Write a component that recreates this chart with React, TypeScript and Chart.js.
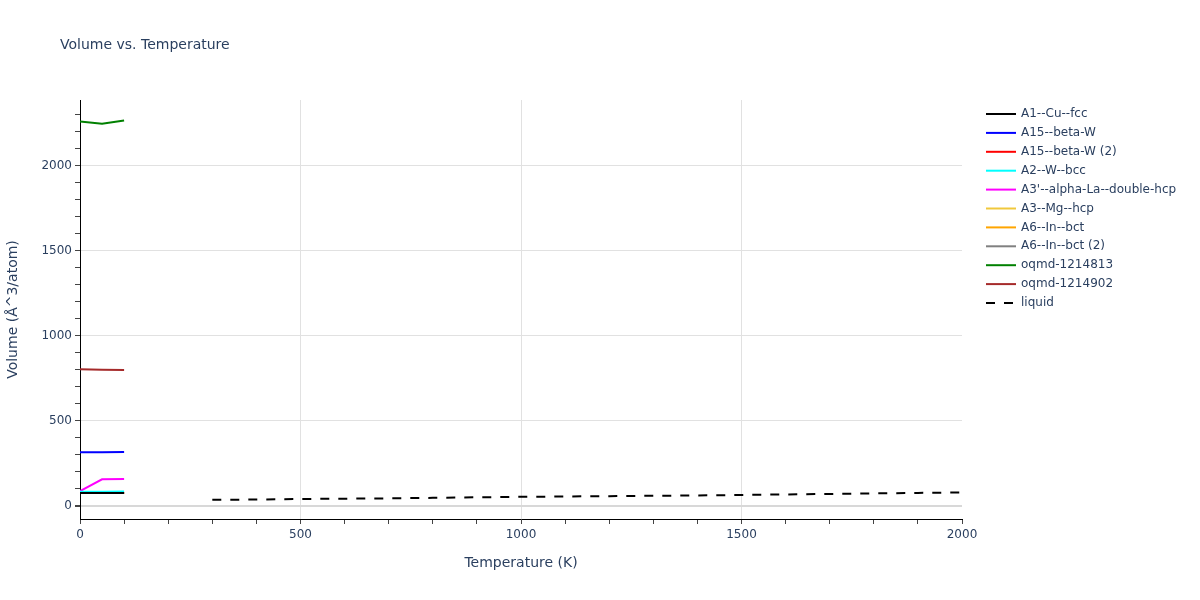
import React, { useEffect, useRef } from "react";
import { Chart, registerables } from "chart.js";

Chart.register(...registerables);

// ---- data ----
const solidTemps = [0, 50, 100];
const seriesNames = [
  "A1--Cu--fcc",
  "A15--beta-W",
  "A15--beta-W (2)",
  "A2--W--bcc",
  "A3'--alpha-La--double-hcp",
  "A3--Mg--hcp",
  "A6--In--bct",
  "A6--In--bct (2)",
  "oqmd-1214813",
  "oqmd-1214902",
];
const seriesColors = [
  "#000000",
  "#0000ff",
  "#ff0000",
  "#00ffff",
  "#ff00ff",
  "#f0c83c",
  "#ffa500",
  "#808080",
  "#008000",
  "#a52a2a",
];
const cuFcc = [76, 76, 77];
const a15BetaW = [316, 316, 318];
const a15BetaW2 = [76, 76, 77];
const a2WBcc = [84, 84, 85];
const a3AlphaLa = [88, 157, 159];
const a3MgHcp = [76, 77, 77];
const a6InBct = [76, 76, 77];
const a6InBct2 = [77, 77, 78];
const oqmd1214813 = [2261, 2249, 2267];
const oqmd1214902 = [804, 802, 800];
const solidValues = [
  cuFcc,
  a15BetaW,
  a15BetaW2,
  a2WBcc,
  a3AlphaLa,
  a3MgHcp,
  a6InBct,
  a6InBct2,
  oqmd1214813,
  oqmd1214902,
];

const liquidTemps = [300, 400, 500, 600, 700, 800, 900, 1000, 1100, 1200, 1300, 1400, 1500, 1600, 1700, 1800, 1900, 2000];
const liquidVolumes = [36, 38, 41, 43, 45, 48, 51, 54, 56, 58, 60, 62, 65, 68, 71, 74, 77, 80];

const xTicks = [0, 100, 200, 300, 400, 500, 600, 700, 800, 900, 1000, 1100, 1200, 1300, 1400, 1500, 1600, 1700, 1800, 1900, 2000];
const yTicks = [0, 100, 200, 300, 400, 500, 600, 700, 800, 900, 1000, 1100, 1200, 1300, 1400, 1500, 1600, 1700, 1800, 1900, 2000, 2100, 2200, 2300];
const labelStep = 500;

const FONT = '"DejaVu Sans", Verdana, sans-serif';
const TEXT = "#2a3f5f";

export default function App() {
  const ref = useRef<HTMLCanvasElement | null>(null);

  useEffect(() => {
    if (!ref.current) return;
    const datasets: any[] = solidValues.map((vals, i) => ({
      label: seriesNames[i],
      data: solidTemps.map((t, j) => ({ x: t, y: vals[j] })),
      borderColor: seriesColors[i],
      backgroundColor: seriesColors[i],
      borderWidth: 2,
      pointRadius: 0,
      tension: 0,
      fill: false,
    }));
    datasets.push({
      label: "liquid",
      data: liquidTemps.map((t, j) => ({ x: t, y: liquidVolumes[j] })),
      borderColor: "#000000",
      backgroundColor: "#000000",
      borderWidth: 2,
      borderDash: [9, 9],
      pointRadius: 0,
      tension: 0,
      fill: false,
    });

    const overlay = {
      id: "overlay",
      afterDraw(chart: any) {
        const ctx = chart.ctx;
        ctx.save();
        ctx.fillStyle = TEXT;
        ctx.textBaseline = "middle";
        ctx.textAlign = "left";
        ctx.font = `14px ${FONT}`;
        ctx.fillText("Volume vs. Temperature", 60, 45);
        ctx.font = `12px ${FONT}`;
        chart.data.datasets.forEach((ds: any, i: number) => {
          const y = 114 + i * 18.9;
          ctx.beginPath();
          ctx.strokeStyle = ds.borderColor;
          ctx.lineWidth = 2;
          ctx.setLineDash(ds.borderDash || []);
          ctx.moveTo(986, y);
          ctx.lineTo(1016, y);
          ctx.stroke();
          ctx.setLineDash([]);
          ctx.fillStyle = TEXT;
          ctx.fillText(ds.label, 1021, y);
        });
        ctx.restore();
      },
    };

    const chart = new Chart(ref.current, {
      type: "line",
      data: { datasets },
      options: {
        animation: false,
        responsive: false,
        maintainAspectRatio: false,
        layout: { padding: { left: 0, top: 100, right: 238, bottom: 0 } },
        plugins: {
          legend: { display: false },
          title: { display: false },
          tooltip: { enabled: false },
        },
        scales: {
          x: {
            type: "linear",
            min: 0,
            max: 2000,
            afterFit(scale: any) {
              scale.height = 81;
            },
            afterBuildTicks(scale: any) {
              scale.ticks = xTicks.map((v) => ({ value: v }));
            },
            ticks: {
              autoSkip: false,
              maxRotation: 0,
              padding: 4,
              color: TEXT,
              font: { family: FONT, size: 12 },
              callback: (v: any) => (Number(v) % labelStep === 0 ? String(v) : ""),
            },
            grid: {
              color: (c: any) =>
                c.tick && c.tick.value % labelStep === 0 && c.tick.value !== 0 && c.tick.value !== 2000
                  ? "#e1e1e1"
                  : "rgba(0,0,0,0)",
              tickColor: "#444",
              tickLength: 5,
              drawTicks: true,
            },
            border: { display: true, color: "#000", width: 1 },
            title: {
              display: true,
              text: "Temperature (K)",
              color: TEXT,
              font: { family: FONT, size: 14 },
              padding: { top: 0, bottom: 28.6 },
            },
          },
          y: {
            type: "linear",
            min: -76.5,
            max: 2388,
            afterFit(scale: any) {
              scale.width = 80;
            },
            afterBuildTicks(scale: any) {
              scale.ticks = yTicks.map((v) => ({ value: v }));
            },
            ticks: {
              autoSkip: false,
              padding: 3,
              color: TEXT,
              font: { family: FONT, size: 12 },
              callback: (v: any) => (Number(v) % labelStep === 0 ? String(v) : ""),
            },
            grid: {
              color: (c: any) =>
                c.tick && c.tick.value % labelStep === 0
                  ? c.tick.value === 0
                    ? "#d8d8d8"
                    : "#e1e1e1"
                  : "rgba(0,0,0,0)",
              lineWidth: (c: any) => (c.tick && c.tick.value === 0 ? 2 : 1),
              tickColor: "#444",
              tickLength: 5,
              drawTicks: true,
            },
            border: { display: true, color: "#000", width: 1 },
            title: {
              display: true,
              text: "Volume (Å^3/atom)",
              color: TEXT,
              font: { family: FONT, size: 14 },
              padding: { top: 4.6, bottom: 0 },
            },
          },
        },
      } as any,
      plugins: [overlay],
    });
    return () => chart.destroy();
  }, []);

  return (
    <div style={{ position: "absolute", left: 0, top: 0, width: 1200, height: 600, background: "#fff" }}>
      <canvas ref={ref} width={1200} height={600} style={{ width: 1200, height: 600, display: "block" }} />
    </div>
  );
}
